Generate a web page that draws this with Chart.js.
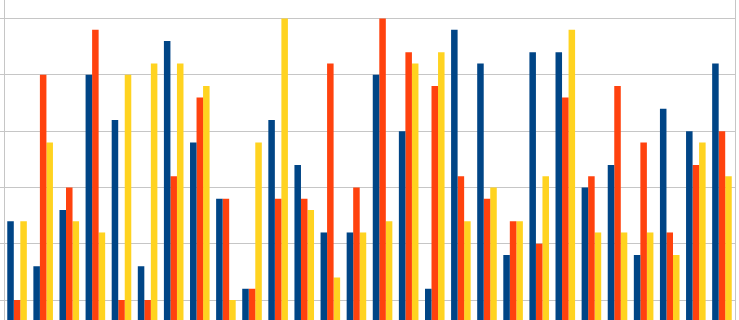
<!DOCTYPE html>
<html>
<head>
<meta charset="utf-8">
<script src="https://cdn.jsdelivr.net/npm/chart.js@4"></script>
<style>
  html, body { margin: 0; padding: 0; background: #ffffff; }
  #wrap { width: 739px; height: 320px; }
</style>
</head>
<body>
<div id="wrap"><canvas id="chart"></canvas></div>
<script>
// 28 groups, three series
const categories = Array.from({ length: 28 }, (_, i) => String(i + 1))
const seriesBlue   = [24, 16, 26, 50, 42, 16, 56, 38, 28, 12, 42, 34, 22, 22, 50, 40, 12, 58, 52, 18, 54, 54, 30, 34, 18, 44, 40, 52]
const seriesOrange = [10, 50, 30, 58, 10, 10, 32, 46, 28, 12, 28, 28, 52, 30, 60, 54, 48, 32, 28, 24, 20, 46, 32, 48, 38, 22, 34, 40]
const seriesYellow = [24, 38, 24, 22, 50, 52, 52, 48, 10, 38, 60, 26, 14, 22, 24, 52, 54, 24, 30, 24, 32, 58, 22, 22, 22, 18, 38, 32]
const gridTicks = [10, 20, 30, 40, 50, 60]

const gridColor = '#c6c6c6'

new Chart(document.getElementById('chart'), {
  type: 'bar',
  data: {
    labels: categories,
    datasets: [
      { label: 'Series 1', data: seriesBlue,   backgroundColor: '#004586' },
      { label: 'Series 2', data: seriesOrange, backgroundColor: '#ff420e' },
      { label: 'Series 3', data: seriesYellow, backgroundColor: '#ffd320' }
    ]
  },
  options: {
    responsive: true,
    maintainAspectRatio: false,
    animation: false,
    layout: { padding: { left: 0, right: 4, top: 0, bottom: 0 } },
    datasets: {
      bar: { categoryPercentage: 0.75, barPercentage: 1.0 }
    },
    plugins: {
      legend: { display: false },
      tooltip: { enabled: false }
    },
    scales: {
      x: { display: false },
      y: {
        min: 6.45,
        max: 63.3,
        afterBuildTicks: (axis) => {
          axis.ticks = gridTicks.map(v => ({ value: v }))
        },
        ticks: { display: false },
        grid: { color: gridColor, lineWidth: 1, tickLength: 4, drawTicks: true },
        border: { display: true, color: gridColor }
      },
      yRight: {
        position: 'right',
        min: 6.45,
        max: 63.3,
        ticks: { display: false },
        grid: { drawOnChartArea: false, drawTicks: false },
        border: { display: true, color: gridColor }
      }
    }
  }
})
</script>
</body>
</html>
